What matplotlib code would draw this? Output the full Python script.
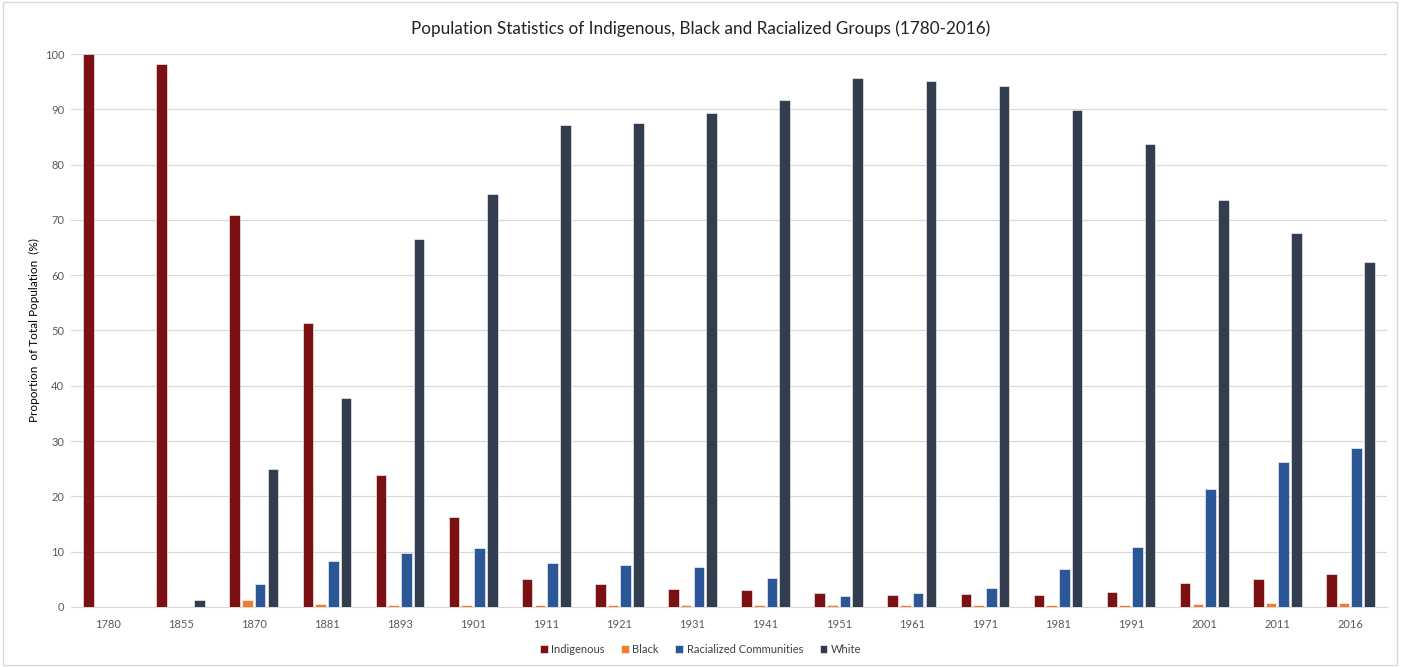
import numpy as np
import matplotlib
matplotlib.use("Agg")
import matplotlib.pyplot as plt
from matplotlib.patches import Rectangle

# -------------------------
# DATA
# -------------------------
years = ["1780", "1855", "1870", "1881", "1893", "1901", "1911", "1921", "1931",
         "1941", "1951", "1961", "1971", "1981", "1991", "2001", "2011", "2016"]
indigenous = [100.0, 98.2, 70.9, 51.3, 23.8, 16.2, 5.1, 4.2, 3.3,
              3.0, 2.5, 2.2, 2.3, 2.2, 2.7, 4.4, 5.1, 5.9]
black = [0, 0, 1.3, 0.6, 0.3, 0.3, 0.3, 0.3, 0.3,
         0.3, 0.3, 0.3, 0.3, 0.3, 0.3, 0.6, 0.8, 0.8]
racialized = [0, 0, 4.2, 8.3, 9.8, 10.7, 7.9, 7.6, 7.3,
              5.2, 2.0, 2.5, 3.5, 6.9, 10.8, 21.3, 26.2, 28.7]
white = [0, 1.3, 25.0, 37.8, 66.6, 74.7, 87.1, 87.6, 89.3,
         91.7, 95.6, 95.1, 94.2, 89.8, 83.7, 73.6, 67.7, 62.4]

series_names = ["Indigenous", "Black", "Racialized Communities", "White"]
series_colors = ["#7B1113", "#ED7D31", "#2B5797", "#323E4F"]

plt.rcParams['font.family'] = ['Lato', 'DejaVu Sans']

fig = plt.figure(figsize=(14.01, 6.67), dpi=100)
ax = fig.add_axes([0.0507, 0.090, 0.9393, 0.829])

x = np.arange(len(years))
step = 0.174
width = 0.145
for i, (vals, name, col) in enumerate(zip([indigenous, black, racialized, white],
                                          series_names, series_colors)):
    ax.bar(x + (i - 1.5) * step, vals, width=width, color=col, label=name,
           edgecolor="white", linewidth=0.4, zorder=3)

ax.set_xlim(-0.5, len(years) - 0.5)
ax.set_ylim(0, 100)
ax.set_yticks(np.arange(0, 101, 10))
ax.set_xticks(x)
ax.set_xticklabels(years)
ax.tick_params(axis="both", length=0, labelsize=8, colors="#595959")
ax.tick_params(axis="x", pad=9)
ax.tick_params(axis="y", pad=5)
ax.grid(axis="y", color="#D9D9D9", linewidth=0.9, zorder=0)
for side in ["top", "right", "left"]:
    ax.spines[side].set_visible(False)
ax.spines["bottom"].set_color("#D9D9D9")

ax.set_ylabel("Proportion  of Total Population  (%)", fontsize=8.5, color="black",
              labelpad=3)

fig.suptitle("Population Statistics of Indigenous, Black and Racialized Groups (1780-2016)",
             fontsize=12.3, y=0.97, color="#222222")

fig.legend(loc="center", bbox_to_anchor=(0.5, 0.026), ncol=4, frameon=False,
           fontsize=8, handlelength=0.7, handleheight=0.7, handletextpad=0.3,
           columnspacing=1.5, labelcolor="#404040")

# light outer chart border
fig.add_artist(Rectangle((0.002, 0.003), 0.995, 0.994, transform=fig.transFigure,
                         fill=False, edgecolor="#D9D9D9", linewidth=1))

fig.savefig("out.png", dpi=100)
